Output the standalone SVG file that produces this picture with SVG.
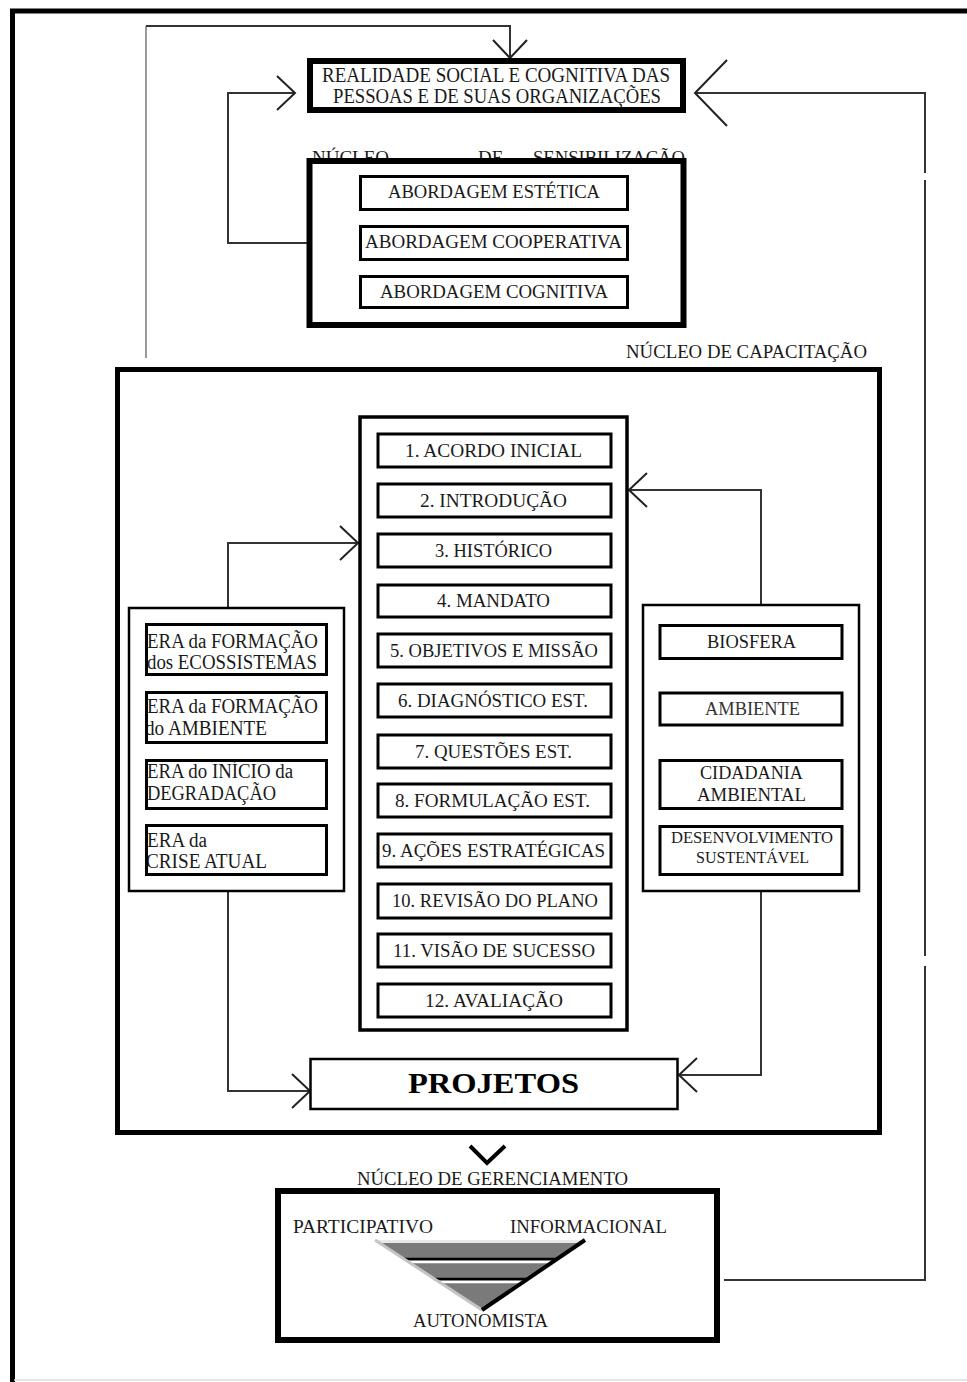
<svg xmlns="http://www.w3.org/2000/svg" width="967" height="1382" viewBox="0 0 967 1382">
<style>
.t{font-family:"Liberation Serif","Times New Roman",serif;fill:#1a1a1a;font-size:19px}
.t20{font-size:20px}
.t16{font-size:16px}
.big{font-size:30px;font-weight:bold;fill:#000}
.thick{fill:#fff;stroke:#000;stroke-width:6}
.mid{fill:#fff;stroke:#000;stroke-width:3}
.thin{fill:#fff;stroke:#000;stroke-width:2.5}
.conn{fill:none;stroke:#333;stroke-width:2}
.arrow{fill:none;stroke:#222;stroke-width:2}
</style>
<defs>
<marker id="arr" markerUnits="userSpaceOnUse" markerWidth="40" markerHeight="40" refX="18" refY="17" orient="auto" overflow="visible">
<path class="arrow" d="M0,0 L18,17 L0,34"/>
</marker>
<marker id="arrL" markerUnits="userSpaceOnUse" markerWidth="70" markerHeight="70" refX="32" refY="33" orient="auto" overflow="visible">
<path class="arrow" d="M0,0 L32,33 L0,66"/>
</marker>
</defs>
<rect width="967" height="1382" fill="#fff"/>
<g id="frame">
<path d="M12.5,1382 V11 H967" fill="none" stroke="#000" stroke-width="5"/>
<line x1="14" y1="1380" x2="967" y2="1380" stroke="#ddd" stroke-width="1.5"/>
</g>

<g id="connectors">
<line x1="146" y1="358" x2="146" y2="26" stroke="#999" stroke-width="2"/>
<path class="conn" d="M146,26 H510 V58" marker-end="url(#arr)"/>
<path class="conn" d="M308,243 H228 V93 H295" marker-end="url(#arr)"/>
<path class="conn" d="M724,1280 H925 V966"/>
<path class="conn" d="M925,956 V180"/>
<path class="conn" d="M925,173 V93 H695" marker-end="url(#arrL)"/>
<path class="conn" d="M228,607 V543 H358" marker-end="url(#arr)"/>
<path class="conn" d="M761,604 V490 H629" marker-end="url(#arr)"/>
<path class="conn" d="M228,892 V1091 H310" marker-end="url(#arr)"/>
<path class="conn" d="M761,892 V1075 H679" marker-end="url(#arr)"/>
<path d="M470,1146 L487,1163 L505,1146" fill="none" stroke="#000" stroke-width="4"/>
</g>

<g id="realidade">
<rect class="thick" x="310" y="61" width="373" height="49"/>
<text class="t t20" x="322" y="82" textLength="348" lengthAdjust="spacingAndGlyphs">REALIDADE SOCIAL E COGNITIVA DAS</text>
<text class="t t20" x="333" y="103" textLength="328" lengthAdjust="spacingAndGlyphs">PESSOAS E DE SUAS ORGANIZAÇÕES</text>
</g>

<g id="sensibilizacao">
<text class="t" x="312" y="164">NÚCLEO</text>
<text class="t" x="478" y="164">DE</text>
<text class="t" x="533" y="164" textLength="152" lengthAdjust="spacingAndGlyphs">SENSIBILIZAÇÃO</text>
<rect class="thick" x="309.5" y="161" width="374" height="164"/>
<g id="estetica">
<rect class="mid" x="360.5" y="176.5" width="267" height="33"/>
<text class="t" x="388" y="198" textLength="212" lengthAdjust="spacingAndGlyphs">ABORDAGEM ESTÉTICA</text>
</g>
<g id="cooperativa">
<rect class="mid" x="360.5" y="226.5" width="267" height="33"/>
<text class="t" x="365" y="248" textLength="257" lengthAdjust="spacingAndGlyphs">ABORDAGEM COOPERATIVA</text>
</g>
<g id="cognitiva">
<rect class="mid" x="360.5" y="276.5" width="267" height="31"/>
<text class="t" x="380" y="298" textLength="228" lengthAdjust="spacingAndGlyphs">ABORDAGEM COGNITIVA</text>
</g>
</g>

<g id="capacitacao">
<text class="t" x="626" y="358" textLength="241" lengthAdjust="spacingAndGlyphs">NÚCLEO DE CAPACITAÇÃO</text>
<rect x="117.5" y="369.5" width="762" height="763" fill="none" stroke="#000" stroke-width="5"/>
</g>

<g id="etapas">
<rect x="360" y="417" width="267" height="613" fill="#fff" stroke="#000" stroke-width="3.5"/>
<g id="e1"><rect class="mid" x="378" y="434" width="233" height="33"/><text class="t" x="405" y="457" textLength="177" lengthAdjust="spacingAndGlyphs">1.  ACORDO INICIAL</text></g>
<g id="e2"><rect class="mid" x="378" y="484" width="233" height="33"/><text class="t" x="420" y="507" textLength="147" lengthAdjust="spacingAndGlyphs">2.  INTRODUÇÃO</text></g>
<g id="e3"><rect class="mid" x="378" y="534" width="233" height="33"/><text class="t" x="435" y="557" textLength="117" lengthAdjust="spacingAndGlyphs">3. HISTÓRICO</text></g>
<g id="e4"><rect class="mid" x="378" y="585" width="233" height="32"/><text class="t" x="437" y="607" textLength="113" lengthAdjust="spacingAndGlyphs">4. MANDATO</text></g>
<g id="e5"><rect class="mid" x="378" y="634" width="233" height="33"/><text class="t" x="390" y="657" textLength="208" lengthAdjust="spacingAndGlyphs">5. OBJETIVOS E MISSÃO</text></g>
<g id="e6"><rect class="mid" x="378" y="684" width="233" height="33"/><text class="t" x="398" y="707" textLength="190" lengthAdjust="spacingAndGlyphs">6. DIAGNÓSTICO EST.</text></g>
<g id="e7"><rect class="mid" x="378" y="735" width="233" height="33"/><text class="t" x="415" y="758" textLength="157" lengthAdjust="spacingAndGlyphs">7. QUESTÕES EST.</text></g>
<g id="e8"><rect class="mid" x="378" y="784" width="233" height="33"/><text class="t" x="395" y="807" textLength="195" lengthAdjust="spacingAndGlyphs">8. FORMULAÇÃO EST.</text></g>
<g id="e9"><rect class="mid" x="378" y="834" width="233" height="33"/><text class="t" x="382" y="857" textLength="223" lengthAdjust="spacingAndGlyphs">9. AÇÕES ESTRATÉGICAS</text></g>
<g id="e10"><rect class="mid" x="378" y="884" width="233" height="34"/><text class="t" x="392" y="907" textLength="206" lengthAdjust="spacingAndGlyphs">10. REVISÃO DO PLANO</text></g>
<g id="e11"><rect class="mid" x="378" y="934" width="233" height="33"/><text class="t" x="393" y="957" textLength="202" lengthAdjust="spacingAndGlyphs">11. VISÃO DE SUCESSO</text></g>
<g id="e12"><rect class="mid" x="378" y="984" width="233" height="33"/><text class="t" x="425" y="1007" textLength="138" lengthAdjust="spacingAndGlyphs">12. AVALIAÇÃO</text></g>
</g>

<g id="eras">
<rect class="thin" x="129" y="608" width="215" height="283"/>
<g id="era1">
<text class="t t20" x="147" y="648" textLength="171" lengthAdjust="spacingAndGlyphs">ERA da FORMAÇÃO</text>
<text class="t t20" x="147" y="669" textLength="170" lengthAdjust="spacingAndGlyphs">dos ECOSSISTEMAS</text>
<rect x="146.5" y="624.5" width="180" height="50" fill="none" stroke="#000" stroke-width="3"/>
</g>
<g id="era2">
<text class="t t20" x="147" y="713" textLength="171" lengthAdjust="spacingAndGlyphs">ERA da FORMAÇÃO</text>
<text class="t t20" x="145" y="735" textLength="122" lengthAdjust="spacingAndGlyphs">do AMBIENTE</text>
<rect x="146.5" y="692.5" width="180" height="50" fill="none" stroke="#000" stroke-width="3"/>
</g>
<g id="era3">
<text class="t t20" x="147" y="778" textLength="146" lengthAdjust="spacingAndGlyphs">ERA do INÍCIO da</text>
<text class="t t20" x="147" y="800" textLength="129" lengthAdjust="spacingAndGlyphs">DEGRADAÇÃO</text>
<rect x="146.5" y="760.5" width="180" height="48" fill="none" stroke="#000" stroke-width="3"/>
</g>
<g id="era4">
<text class="t t20" x="147" y="847" textLength="60" lengthAdjust="spacingAndGlyphs">ERA da</text>
<text class="t t20" x="146" y="868" textLength="121" lengthAdjust="spacingAndGlyphs">CRISE ATUAL</text>
<rect x="146.5" y="825.5" width="180" height="49" fill="none" stroke="#000" stroke-width="3"/>
</g>
</g>

<g id="conceitos">
<rect class="thin" x="643" y="605" width="216" height="286"/>
<g id="biosfera"><rect class="mid" x="660" y="625.5" width="182" height="33"/><text class="t" x="707" y="648" textLength="89" lengthAdjust="spacingAndGlyphs">BIOSFERA</text></g>
<g id="ambiente"><rect class="mid" x="660" y="693" width="182" height="32"/><text class="t" x="705" y="715" textLength="95" lengthAdjust="spacingAndGlyphs" style="fill:#333">AMBIENTE</text></g>
<g id="cidadania"><rect class="mid" x="660" y="760.5" width="182" height="48"/><text class="t" x="700" y="779" textLength="103" lengthAdjust="spacingAndGlyphs">CIDADANIA</text><text class="t" x="697" y="801" textLength="109" lengthAdjust="spacingAndGlyphs">AMBIENTAL</text></g>
<g id="desenvolvimento"><rect class="mid" x="660" y="826.5" width="182" height="48"/><text class="t t16" x="671" y="843" textLength="162" lengthAdjust="spacingAndGlyphs">DESENVOLVIMENTO</text><text class="t t16" x="696" y="863" textLength="113" lengthAdjust="spacingAndGlyphs">SUSTENTÁVEL</text></g>
</g>

<g id="projetos">
<rect x="310.5" y="1059" width="367" height="50" fill="#fff" stroke="#000" stroke-width="2.5"/>
<text class="t big" x="408" y="1093" textLength="171" lengthAdjust="spacingAndGlyphs">PROJETOS</text>
</g>

<g id="gerenciamento">
<text class="t" x="357" y="1185" textLength="271" lengthAdjust="spacingAndGlyphs">NÚCLEO DE GERENCIAMENTO</text>
<rect class="thick" x="278" y="1191" width="439" height="149"/>
<text class="t" x="293" y="1233" textLength="140" lengthAdjust="spacingAndGlyphs">PARTICIPATIVO</text>
<text class="t" x="510" y="1233" textLength="157" lengthAdjust="spacingAndGlyphs">INFORMACIONAL</text>
<g id="triangulo">
<polygon points="375,1240 585,1240 482,1310" fill="#7a7a7a"/>
<line x1="376" y1="1241.5" x2="583" y2="1241.5" stroke="#e8e8e8" stroke-width="3"/>
<line x1="404" y1="1259" x2="557" y2="1259" stroke="#000" stroke-width="2.5"/>
<line x1="407" y1="1262" x2="554" y2="1262" stroke="#fff" stroke-width="2.5"/>
<line x1="434" y1="1279" x2="528" y2="1279" stroke="#000" stroke-width="2.5"/>
<line x1="438" y1="1282" x2="524" y2="1282" stroke="#fff" stroke-width="2.5"/>
<line x1="375" y1="1240" x2="482" y2="1310" stroke="#c4c4c4" stroke-width="3"/>
<line x1="585" y1="1240" x2="482" y2="1310" stroke="#000" stroke-width="4"/>
</g>
<text class="t" x="413" y="1327" textLength="135" lengthAdjust="spacingAndGlyphs">AUTONOMISTA</text>
</g>
</svg>
